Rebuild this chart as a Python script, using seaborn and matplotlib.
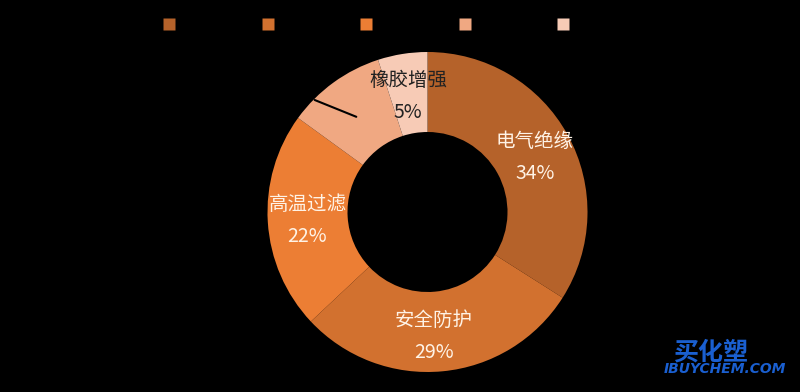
import matplotlib
matplotlib.use("Agg")
import matplotlib.pyplot as plt
import seaborn as sns
from matplotlib.lines import Line2D

sns.set_theme(style="white")
plt.rcParams["font.family"] = ["Noto Sans CJK SC", "DejaVu Sans"]

# Application share of the material
categories = ["电气绝缘", "安全防护", "高温过滤", "其他领域", "橡胶增强"]
shares = [34, 29, 22, 10, 5]
colors = ["#B5622A", "#D2712F", "#EC7E34", "#F0A882", "#F7CBB6"]
label_colors = ["#FFF3E6", "#FFF3E6", "#FFF3E6", "#000000", "#222222"]

fig = plt.figure(figsize=(8.0, 3.92), dpi=100, facecolor="black")
ax = fig.add_axes([267.5 / 800, 20 / 392, 320 / 800, 320 / 392])
ax.set_facecolor("black")

wedges, _ = ax.pie(
    shares,
    colors=colors,
    startangle=90,
    counterclock=False,
    radius=1.0,
    wedgeprops=dict(width=0.5, edgecolor="none"),
)
ax.set_xlim(-1, 1)
ax.set_ylim(-1, 1)
ax.set_aspect("equal")
ax.axis("off")

# Data labels (name on top, percentage below), in axes data units
label_pos = {
    "电气绝缘": (0.67, 0.34),
    "安全防护": (0.04, -0.78),
    "高温过滤": (-0.75, -0.05),
    "其他领域": (-1.18, 0.72),
    "橡胶增强": (-0.12, 0.72),
}
for name, val, tc in zip(categories, shares, label_colors):
    x, y = label_pos[name]
    ax.text(x, y + 0.10, name, ha="center", va="center", fontsize=14, color=tc)
    ax.text(x, y - 0.10, f"{val}%", ha="center", va="center", fontsize=14, color=tc)

# Leader line for the small slice label
ax.plot([-0.705, -0.445], [0.70, 0.595], color="black", lw=1.5)

# Legend along the top
handles = [
    Line2D([0], [0], marker="s", linestyle="none", markersize=8,
           markerfacecolor=c, markeredgecolor="none")
    for c in colors
]
fig.legend(
    handles, categories,
    loc="upper center", bbox_to_anchor=(0.496, 0.987),
    ncol=5, frameon=False, fontsize=10, labelcolor="black",
    handlelength=0.8, handletextpad=0.4, columnspacing=1.89,
)

# Site mark in the lower right corner
fig.text(0.888, 0.102, "买化塑", color="#1A5FD0", fontsize=18,
         fontweight="bold", style="italic", ha="center", va="center")
fig.text(0.906, 0.058, "IBUYCHEM.COM", color="#1A5FD0", fontsize=10,
         fontweight="bold", style="italic", ha="center", va="center",
         family=["DejaVu Sans"])

fig.savefig("out.png", dpi=100, facecolor="black")
